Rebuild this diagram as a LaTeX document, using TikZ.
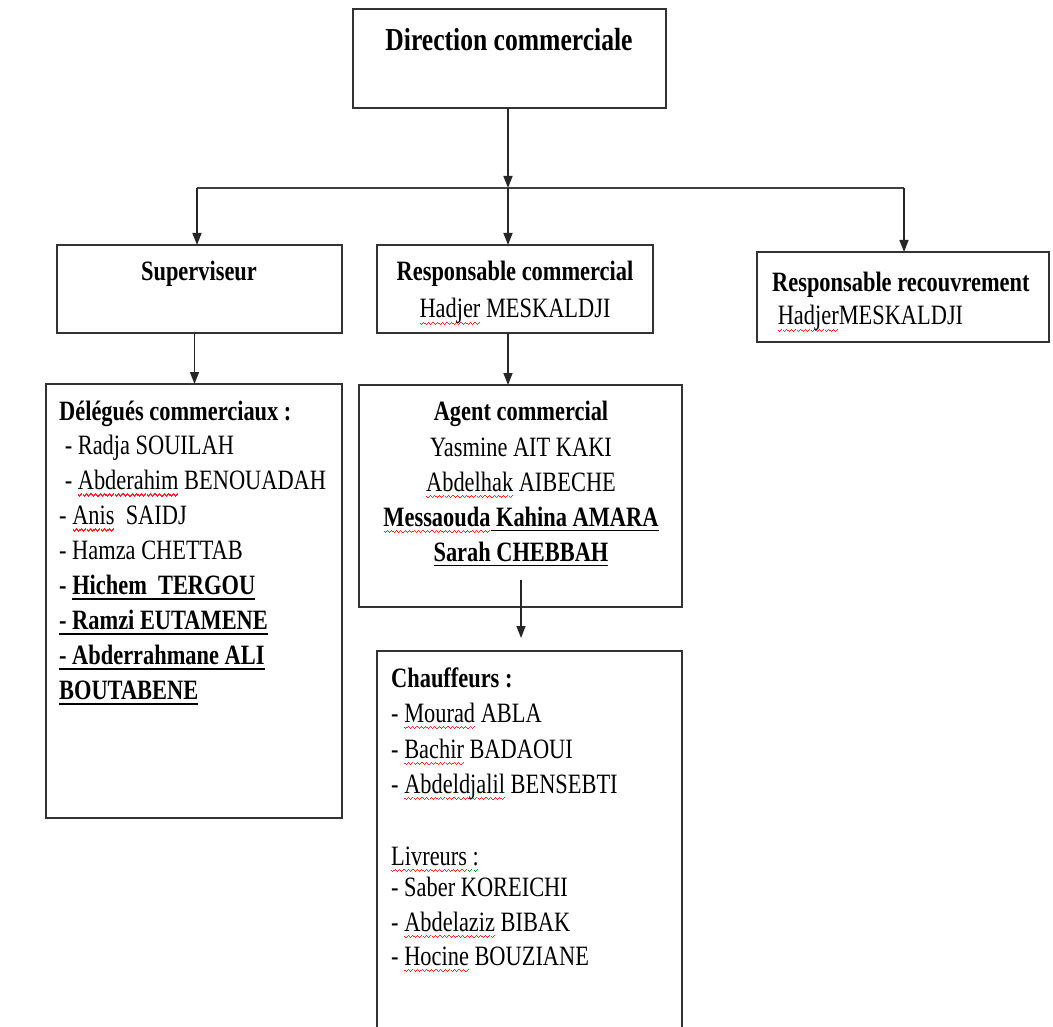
\documentclass[tikz,border=0pt]{standalone}
\usepackage{fontspec}
\setmainfont{Liberation Serif}[FakeStretch=0.8]
\usetikzlibrary{arrows.meta}
\newcommand\myul[1]{\setbox0\hbox{#1}\rlap{\vrule height -3.6pt depth 5.4pt width\wd0}\box0\relax}
\newcommand\wavebit{\hbox{\vrule width 1.1pt height -4.6pt depth 5.8pt\vrule width 1.1pt height -5.6pt depth 6.8pt\vrule width 1.1pt height -4.6pt depth 5.8pt\vrule width 1.1pt height -3.6pt depth 4.8pt}}
\newcommand\mywave[2]{\setbox0\hbox{#2}\rlap{\color{#1}\hbox to\wd0{\xleaders\wavebit\hfill}}\box0\relax}
\newcommand\mysq[1]{\mywave{red!85!white}{#1}}
\newcommand\mygsq[1]{\mywave{green!60!black}{#1}}
\tikzset{
  box/.style={draw=black!80, line width=1.6pt, inner sep=0pt, outer sep=0pt, rectangle},
  arr/.style={draw=black!85, line width=1.5pt, -{Triangle[length=12pt,width=9pt]}},
  ln/.style={draw=black!75, line width=1.5pt},
  txt/.style={inner sep=0pt, anchor=base},
  ltxt/.style={inner sep=0pt, anchor=base west},
}
\begin{document}
\begin{tikzpicture}[x=1pt,y=-1pt,font=\fontsize{28}{35}\selectfont]
\clip (0,0) rectangle (1053,1027);
\fill[white] (0,0) rectangle (1053,1027);
% boxes
\node[box, minimum width=313pt, minimum height=99pt] (dir) at (509.5,58.5) {};
\node[box, minimum width=285pt, minimum height=88pt] (sup) at (199.5,289) {};
\node[box, minimum width=276pt, minimum height=88pt] (rc) at (515,289) {};
\node[box, minimum width=292pt, minimum height=90pt] (rr) at (903,297) {};
\node[box, minimum width=296pt, minimum height=434pt] (del) at (194,601) {};
\node[box, minimum width=323pt, minimum height=222pt] (ag) at (520.5,496) {};
\node[box, minimum width=305pt, minimum height=409pt] (ch) at (529.5,855.5) {};
% connectors
\coordinate (j) at (508,188);
\coordinate (jl) at (197,188);
\coordinate (jr) at (904,188);
\draw[arr] (dir.south -| j) -- (j);
\draw[ln] (jl) -- (jr);
\draw[arr] (jl) -- (jl |- sup.north);
\draw[arr] (j) -- (j |- rc.north);
\draw[arr] (jr) -- (jr |- rr.north);
\draw[arr] ([xshift=-5pt]sup.south) -- ([xshift=-5pt]sup.south |- del.north);
\draw[arr] (rc.south -| j) -- (ag.north -| j);
\coordinate (s) at (521,580);
\coordinate (e) at ([yshift=13pt]ch.north);
\draw[arr] (s) -- (s |- e);
% texts
\node[txt, font=\fontsize{32}{38}\selectfont\bfseries] (tdir) at (509,51) {Direction commerciale};
\node[txt] (tsup) at (199,281) {\textbf{Superviseur}};
\node[txt] (trc1) at (515,281) {\textbf{Responsable commercial}};
\node[txt] (trc2) at (515,318) {\mysq{Hadjer} MESKALDJI};
\node[ltxt] (trr1) at (772,291) {\textbf{Responsable recouvrement}};
\node[ltxt] (trr2) at (772,325) {\ \mysq{Hadjer}MESKALDJI};
\foreach \t [count=\i from 0] in {
  {\textbf{Délégués commerciaux :}},
  {\ - Radja SOUILAH},
  {\ - \mysq{Abderahim} BENOUADAH},
  {- \mysq{Anis}\ \ SAIDJ},
  {- Hamza CHETTAB},
  {\textbf{- \myul{Hichem\ \ TERGOU}}},
  {\textbf{\myul{- Ramzi EUTAMENE}}},
  {\textbf{\myul{- Abderrahmane ALI}}},
  {\textbf{\myul{BOUTABENE}}}}
  \node[ltxt] (d\i) at (59,420+34.9*\i) {\t};
\foreach \y/\t [count=\i] in {
  420/{\textbf{Agent commercial}},
  456/{Yasmine AIT KAKI},
  491/{\mysq{Abdelhak} AIBECHE},
  526/{\textbf{\mysq{Messaouda}\myul{\ Kahina AMARA}}},
  561/{\textbf{\myul{Sarah CHEBBAH}}}}
  \node[txt] (a\i) at (521,\y) {\t};
\foreach \y/\t [count=\i] in {
  687/{\textbf{Chauffeurs :}},
  722/{- \mysq{Mourad} ABLA},
  758/{- \mysq{Bachir} BADAOUI},
  793/{- \mysq{Abdeldjalil} BENSEBTI},
  865/{\mysq{Livreurs}\mygsq{\ :}},
  896/{- Saber KOREICHI},
  931/{- \mysq{Abdelaziz} BIBAK},
  965/{- \mysq{Hocine} BOUZIANE}}
  \node[ltxt] (c\i) at (391,\y) {\t};
\end{tikzpicture}
\end{document}
